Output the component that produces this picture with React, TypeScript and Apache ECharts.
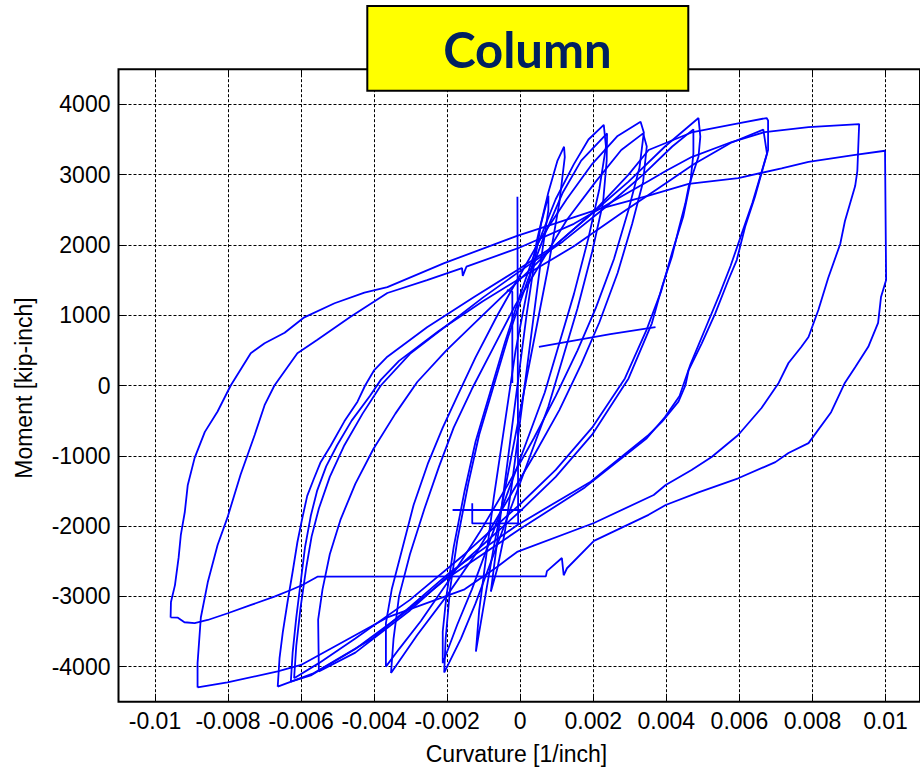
import React, { useEffect, useRef } from "react";
import * as echarts from "echarts";

// ---- axis settings / labels ----
const xTitle = "Curvature [1/inch]";
const yTitle = "Moment [kip-inch]";
const chartTitle = "Column";

// ---- hysteresis branches: [curvature (1/inch), moment (kip-inch)] ----
const loopA = [
  [-0.00957, -3300], [-0.00956, -3080], [-0.00945, -2840], [-0.00935, -2450], [-0.00929, -2130],
  [-0.00918, -1800], [-0.0091, -1420], [-0.00891, -1030], [-0.00863, -660], [-0.00828, -370],
  [-0.00792, 0], [-0.00737, 460], [-0.00699, 600], [-0.00644, 750], [-0.0059, 970], [-0.00507, 1170],
  [-0.00425, 1320], [-0.00362, 1400], [-0.00206, 1740], [-0.00006, 2130], [0.00095, 2300],
  [0.00218, 2510], [0.00355, 2700], [0.00465, 2870], [0.00601, 2950], [0.0072, 3090], [0.00794, 3180],
  [0.00922, 3280], [0.01004, 3340], [0.01007, 1500], [0.00993, 1260], [0.00985, 890], [0.00958, 550],
  [0.00922, 260], [0.00894, 40], [0.00856, -380], [0.00794, -820], [0.00739, -960], [0.00703, -1090],
  [0.00601, -1320], [0.00492, -1520], [0.00402, -1700], [0.00355, -1840], [0.00205, -2210],
  [0.00131, -2600], [0.00122, -2700], [0.00117, -2454], [0.00076, -2640], [0.00073, -2715],
  [-0.00554, -2720], [-0.00595, -2838], [-0.00627, -2909], [-0.00672, -3004], [-0.00736, -3122],
  [-0.008, -3240], [-0.00855, -3336], [-0.00891, -3382], [-0.00919, -3368], [-0.00937, -3303],
  [-0.00957, -3300],
];

const loopB = [
  [-0.00883, -4296], [-0.00883, -3950], [-0.00874, -3300], [-0.00855, -2800], [-0.00828, -2270],
  [-0.00801, -1880], [-0.00765, -1270], [-0.00726, -700], [-0.00699, -280], [-0.00672, 0],
  [-0.00609, 460], [-0.00554, 650], [-0.00464, 974], [-0.00362, 1316], [-0.00253, 1500],
  [-0.00157, 1671], [-0.00155, 1560], [-0.00145, 1690], [0, 1960], [0.0015, 2300], [0.0025, 2600],
  [0.00355, 2909], [0.00402, 3051], [0.00473, 3250], [0.00583, 3464], [0.00674, 3606],
  [0.00794, 3677], [0.00933, 3720], [0.00928, 3051], [0.00922, 2838], [0.00894, 2340],
  [0.00881, 2013], [0.00848, 1530], [0.00821, 1074], [0.00794, 690], [0.00774, 548], [0.00739, 320],
  [0.00712, 36], [0.00665, -320], [0.00601, -704], [0.00528, -1017], [0.00473, -1202],
  [0.00402, -1415], [0.00369, -1558], [0.00205, -1956], [-0.00006, -2368], [-0.00061, -2582],
  [-0.0015, -2900], [-0.00362, -3300], [-0.00599, -3976], [-0.00663, -4068], [-0.00801, -4225],
  [-0.00883, -4296],
];

const loopC1 = [
  [-0.00663, -4285], [-0.00658, -3880], [-0.00649, -3510], [-0.00636, -3080], [-0.00622, -2650],
  [-0.00609, -2230], [-0.00596, -1900], [-0.00582, -1570], [-0.00564, -1330], [-0.00546, -1100],
  [-0.00518, -860], [-0.0048, -510], [-0.00444, -230], [-0.00423, 0], [-0.00398, 220],
  [-0.00362, 410], [-0.00253, 830], [-0.00124, 1260], [-0.00006, 1640], [0.001, 2000],
  [0.002, 2450], [0.003, 3000], [0.00355, 3350], [0.00473, 3600], [0.00601, 3730], [0.00679, 3805],
  [0.00683, 3770], [0.00683, 3350], [0.00665, 3020], [0.00647, 2686], [0.0062, 2259],
  [0.00597, 1785], [0.00574, 1501], [0.00538, 1027], [0.00501, 600], [0.00465, 220], [0.00456, 0],
  [0.00437, -230], [0.00392, -515], [0.00355, -704], [0.00196, -1368], [-0.00005, -1984],
  [-0.00188, -2648], [-0.003, -3150], [-0.00403, -3600], [-0.00567, -4100], [-0.00663, -4285],
];

const loopC2 = [
  [-0.00627, -4213], [-0.00622, -3800], [-0.00612, -3300], [-0.006, -2800], [-0.00588, -2300],
  [-0.00572, -1850], [-0.00555, -1500], [-0.0053, -1150], [-0.005, -850], [-0.0046, -500],
  [-0.0041, -150], [-0.0038, 80], [-0.0033, 350], [-0.0022, 780], [-0.001, 1200], [0.0002, 1580],
  [0.0015, 1980], [0.0028, 2450], [0.0038, 2800], [0.0048, 3150], [0.0058, 3450], [0.0067, 3640],
  [0.0068, 3300], [0.0066, 2950], [0.0064, 2600], [0.0061, 2150], [0.0058, 1700], [0.0055, 1300],
  [0.0051, 800], [0.0047, 300], [0.0044, -150], [0.004, -450], [0.0035, -750], [0.0018, -1450],
  [0, -2050], [-0.002, -2750], [-0.0032, -3250], [-0.0045, -3750], [-0.0057, -4120],
  [-0.00627, -4213],
];

const loopD1 = [
  [-0.0055, -4070], [-0.00552, -3330], [-0.0054, -2900], [-0.0052, -2400], [-0.0049, -1900],
  [-0.0045, -1400], [-0.004, -900], [-0.0034, -400], [-0.0028, 50], [-0.002, 500], [-0.001, 1000],
  [0, 1500], [0.001, 2000], [0.002, 2450], [0.003, 2900], [0.004, 3400], [0.00492, 3805],
  [0.00497, 3540], [0.00492, 3255], [0.00465, 2830], [0.00456, 2592], [0.00437, 2212],
  [0.00419, 1832], [0.00392, 1406], [0.00364, 885], [0.003, 100], [0.002, -700], [0.001, -1300],
  [0, -1800], [-0.0015, -2500], [-0.003, -3200], [-0.0045, -3800], [-0.0055, -4070],
];

const loopD2 = [
  [-0.00618, -4165], [-0.00612, -3700], [-0.006, -3150], [-0.00585, -2600], [-0.0057, -2150],
  [-0.0055, -1750], [-0.0052, -1300], [-0.0048, -850], [-0.0043, -400], [-0.0038, 0],
  [-0.003, 450], [-0.002, 850], [-0.001, 1250], [0, 1620], [0.0012, 2050], [0.0024, 2550],
  [0.0034, 3000], [0.0042, 3400], [0.00478, 3644], [0.00478, 3300], [0.0047, 2900], [0.0045, 2400],
  [0.0042, 1900], [0.0039, 1350], [0.0035, 800], [0.0029, 100], [0.002, -600], [0.001, -1200],
  [0, -1700], [-0.0015, -2400], [-0.003, -3050], [-0.0045, -3600], [-0.0055, -3950],
  [-0.00618, -4165],
];

const loopE1 = [
  [-0.00366, -4000], [-0.00366, -3380], [-0.0035, -2900], [-0.0032, -2300], [-0.0029, -1700],
  [-0.0025, -1100], [-0.0021, -600], [-0.0017, -150], [-0.0012, 400], [-0.0006, 1000], [0, 1550],
  [0.0006, 2100], [0.0013, 2650], [0.002, 3150], [0.0027, 3550], [0.00333, 3752], [0.00342, 3600],
  [0.0033, 3100], [0.003, 2500], [0.0026, 1800], [0.0021, 1100], [0.0016, 500], [0.001, -150],
  [0.0004, -750], [-0.0003, -1400], [-0.0011, -2100], [-0.0019, -2750], [-0.0027, -3350],
  [-0.0033, -3750], [-0.00366, -4000],
];

const loopE2 = [
  [-0.00352, -4090], [-0.00345, -3600], [-0.0033, -3000], [-0.003, -2400], [-0.0026, -1750],
  [-0.0022, -1150], [-0.0018, -600], [-0.0013, -50], [-0.0007, 550], [-0.0001, 1150],
  [0.0006, 1750], [0.0013, 2350], [0.0021, 2900], [0.0028, 3350], [0.0034, 3587], [0.0035, 3400],
  [0.0034, 2900], [0.0031, 2300], [0.0027, 1600], [0.0022, 900], [0.0017, 300], [0.0011, -350],
  [0.0004, -1000], [-0.0004, -1700], [-0.0012, -2400], [-0.002, -3000], [-0.0028, -3550],
  [-0.00352, -4090],
];

const loopF1 = [
  [-0.0021, -3952], [-0.0021, -3500], [-0.002, -3000], [-0.0018, -2300], [-0.0015, -1500],
  [-0.0012, -800], [-0.0008, -100], [-0.0004, 600], [0, 1250], [0.0005, 2000], [0.001, 2650],
  [0.0015, 3150], [0.0019, 3500], [0.00232, 3707], [0.00238, 3400], [0.0022, 2800], [0.0019, 2100],
  [0.0015, 1300], [0.0011, 600], [0.0007, -100], [0.0002, -800], [-0.0003, -1500], [-0.0008, -2200],
  [-0.0013, -2900], [-0.0017, -3400], [-0.0021, -3952],
];

const loopF2 = [
  [-0.00206, -4085], [-0.00202, -3600], [-0.0019, -2900], [-0.0017, -2200], [-0.0014, -1400],
  [-0.0011, -700], [-0.0007, 0], [-0.0003, 700], [0.0002, 1450], [0.0007, 2150], [0.0012, 2750],
  [0.0017, 3200], [0.00241, 3587], [0.0024, 3200], [0.0023, 2600], [0.002, 1900], [0.0016, 1100],
  [0.0012, 400], [0.0008, -300], [0.0003, -1000], [-0.0002, -1700], [-0.0007, -2400],
  [-0.0012, -3100], [-0.0016, -3600], [-0.00206, -4085],
];

const loopG = [
  [-0.00119, -3787], [-0.0011, -3200], [-0.0009, -2400], [-0.0007, -1600], [-0.0005, -900],
  [-0.0003, -200], [-0.0001, 500], [0.0002, 1300], [0.0005, 2100], [0.0008, 2750], [0.00105, 3200],
  [0.00123, 3397], [0.00125, 3250], [0.0011, 2600], [0.0008, 1700], [0.0005, 900], [0.0002, 100],
  [-0.0001, -700], [-0.0004, -1500], [-0.0007, -2300], [-0.0009, -2900], [-0.00119, -3787],
];

const loopH = [
  [-0.00078, -2933], [-0.0006, -2200], [-0.0004, -1400], [-0.0002, -600], [0, 200], [0.0002, 1000],
  [0.0004, 1700], [0.0006, 2300], [0.0008, 2700], [0.0008, 2500], [0.0006, 1800], [0.0004, 1000],
  [0.0002, 200], [0, -600], [-0.0002, -1400], [-0.0004, -2100], [-0.0006, -2600], [-0.00078, -2933],
];

const glitchSpike = [
  [-0.00005, 2686], [-0.00003, -1962], [-0.00129, -1962], [-0.00129, -1676],
];
const glitchStep = [
  [-0.00183, -1771], [-0.00003, -1771], [0.0001, -1771],
];
const glitchDrift = [
  [0.00054, 548], [0.0015, 640], [0.0025, 730], [0.00374, 832],
];
const glitchBranch = [
  [-0.00034, 1358], [-0.00019, 1334], [-0.00019, 36],
];

const curves = [
  loopA, loopB, loopC1, loopC2, loopD1, loopD2, loopE1, loopE2,
  loopF1, loopF2, loopG, loopH, glitchSpike, glitchStep, glitchDrift, glitchBranch,
];

const FONT = '"Liberation Sans", Arial, sans-serif';

export default function App() {
  const ref = useRef<HTMLDivElement>(null);

  useEffect(() => {
    if (!ref.current) return;
    const chart = echarts.init(ref.current, undefined, { renderer: "svg" });

    const plotLeft = 118.5;
    const plotTop = 69.2;
    const plotW = 803.5;
    const plotH = 632.6;

    const dashed = { color: "#000", width: 1, type: [3, 2] as any };

    const option: any = {
      animation: false,
      backgroundColor: "#fff",
      grid: [
        {
          left: plotLeft, top: plotTop, width: plotW, height: plotH,
          show: true, borderColor: "#000", borderWidth: 2, backgroundColor: "transparent",
        },
        { left: plotLeft, top: 104.3, width: plotW, height: 562.4 },
        { left: 155, top: plotTop, width: 730.5, height: plotH },
      ],
      xAxis: [
        { gridIndex: 0, type: "value", min: -0.011, max: 0.011, show: false },
        { gridIndex: 1, type: "value", min: 0, max: 1, show: false },
        {
          gridIndex: 2, type: "value", min: -0.01, max: 0.01, interval: 0.002, position: "bottom",
          axisLine: { show: false },
          axisTick: { show: true, inside: true, length: 8, lineStyle: { color: "#000", width: 1 } },
          axisLabel: {
            color: "#000", fontSize: 23, fontFamily: FONT, margin: 8,
            formatter: (v: number) => String(parseFloat(v.toFixed(4)) || 0),
          },
          splitLine: { show: true, lineStyle: dashed },
        },
        {
          gridIndex: 2, type: "value", min: -0.01, max: 0.01, interval: 0.002, position: "top",
          axisLine: { show: false },
          axisTick: { show: true, inside: true, length: 8, lineStyle: { color: "#000", width: 1 } },
          axisLabel: { show: false },
          splitLine: { show: false },
        },
      ],
      yAxis: [
        { gridIndex: 0, type: "value", min: -4500, max: 4500, show: false },
        {
          gridIndex: 1, type: "value", min: -4000, max: 4000, interval: 1000, position: "left",
          axisLine: { show: false },
          axisTick: { show: true, inside: true, length: 8, lineStyle: { color: "#000", width: 1 } },
          axisLabel: {
            color: "#000", fontSize: 23, fontFamily: FONT, margin: 8,
            formatter: (v: number) => String(Math.round(v)),
          },
          splitLine: { show: true, lineStyle: dashed },
        },
        {
          gridIndex: 1, type: "value", min: -4000, max: 4000, interval: 1000, position: "right",
          axisLine: { show: false },
          axisTick: { show: true, inside: true, length: 8, lineStyle: { color: "#000", width: 1 } },
          axisLabel: { show: false },
          splitLine: { show: false },
        },
        { gridIndex: 2, type: "value", min: 0, max: 1, show: false },
      ],
      series: curves.map((d, i) => ({
        type: "line",
        name: "curve" + i,
        xAxisIndex: 0,
        yAxisIndex: 0,
        data: d,
        showSymbol: false,
        symbol: "none",
        silent: true,
        z: 5,
        lineStyle: { color: "#0000ff", width: 1.8 },
      })),
      graphic: [
        {
          type: "text", x: 516.5, y: 754, z: 50,
          style: { text: xTitle, fill: "#000", fontSize: 23, fontFamily: FONT, align: "center", verticalAlign: "middle" },
        },
        {
          type: "text", x: 23.5, y: 388, rotation: Math.PI / 2, z: 50,
          style: { text: yTitle, fill: "#000", fontSize: 23, fontFamily: FONT, align: "center", verticalAlign: "middle" },
        },
        {
          type: "rect", z: 100,
          shape: { x: 367.3, y: 6, width: 321, height: 84.7 },
          style: { fill: "#ffff00", stroke: "#000", lineWidth: 2 },
        },
        {
          type: "text", x: 527.4, y: 49, z: 101,
          style: {
            text: chartTitle, fill: "#002060", fontSize: 49, fontWeight: "bold",
            fontFamily: "Lato, 'Open Sans', sans-serif", align: "center", verticalAlign: "middle",
          },
        },
      ],
    };

    chart.setOption(option);
    return () => chart.dispose();
  }, []);

  return (
    <div
      ref={ref}
      style={{ position: "absolute", left: 0, top: 0, width: 920, height: 767, background: "#fff" }}
    />
  );
}
